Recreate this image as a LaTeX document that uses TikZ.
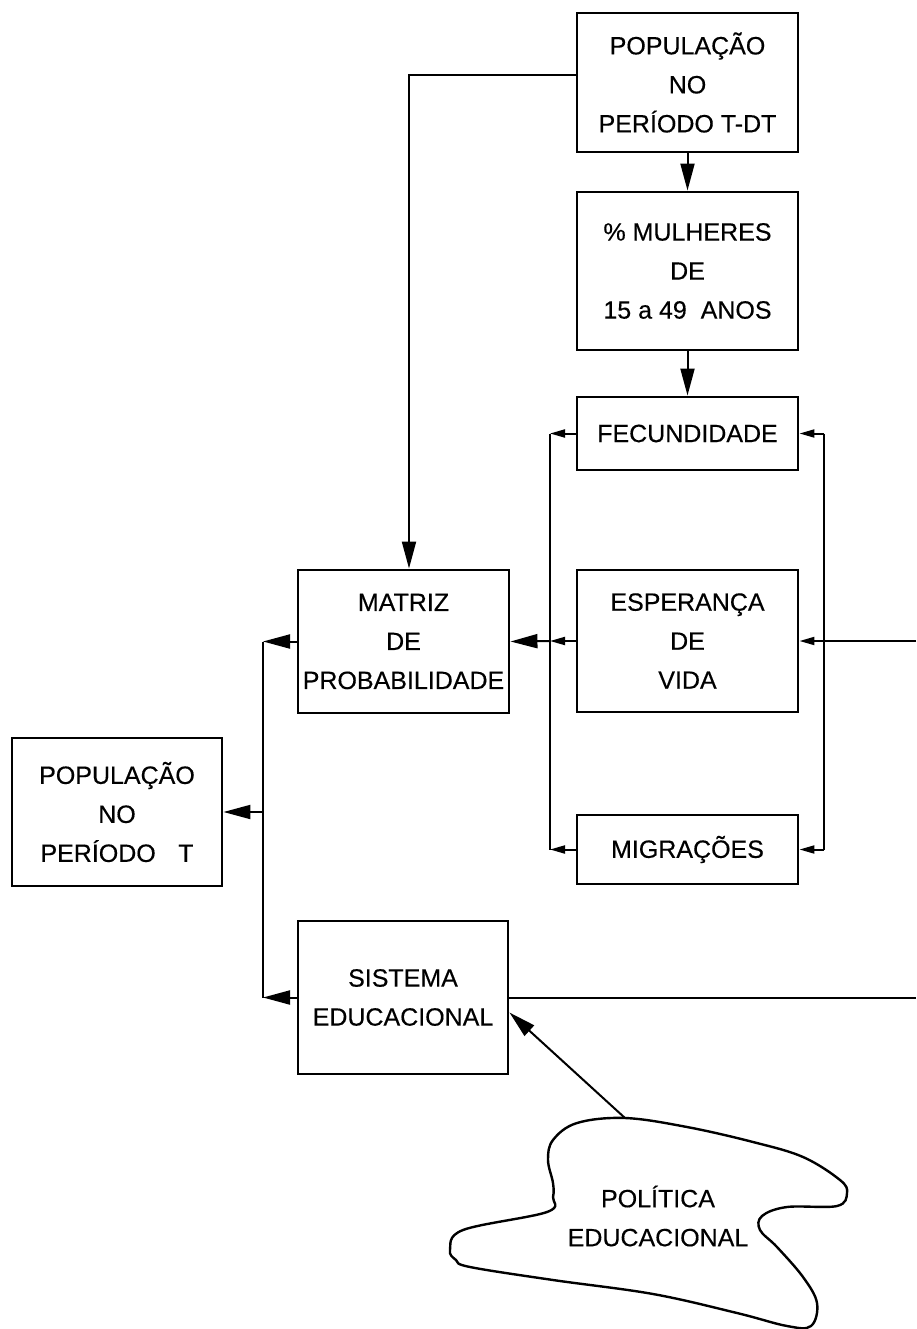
\documentclass[tikz,border=0pt]{standalone}
\usepackage{fontspec}
\setmainfont{Liberation Sans}
% pen-lettered look: the upright face slightly emboldened
\newfontfamily\penfont{Liberation Sans}[BoldFont={Liberation Sans},BoldFeatures={FakeBold=0.35}]
\usetikzlibrary{arrows.meta}

\begin{document}
\begin{tikzpicture}[x=1pt,y=-1pt,
  lettering/.style={font=\penfont\bfseries\fontsize{25}{39}\selectfont},
  blk/.style={draw, line width=2.9pt, inner sep=0pt, align=center, lettering},
  wire/.style={line width=2pt},
  bigarrow/.style={wire, -{Triangle[length=27pt,width=14pt]}},
  smallarrow/.style={wire, -{Triangle[length=15pt,width=8pt]}}]

  % page frame
  \fill[white] (0,0) rectangle (916,1329);
  \useasboundingbox (0,0) rectangle (916,1329);

  % right column
  \node[blk, minimum width=221pt, minimum height=139pt] (poptdt) at (687.5,82.5)
    {POPULAÇÃO\\NO\\PERÍODO T-DT};
  \node[blk, minimum width=221pt, minimum height=158pt] (mulheres) at (687.5,271)
    {\% MULHERES\\DE\\15 a 49\ \ ANOS};
  \node[blk, minimum width=221pt, minimum height=73pt] (fecund) at (687.5,433.5)
    {FECUNDIDADE};
  \node[blk, minimum width=221pt, minimum height=142pt] (esper) at (687.5,641)
    {ESPERANÇA\\DE\\VIDA};
  \node[blk, minimum width=221pt, minimum height=69pt] (migr) at (687.5,849.5)
    {MIGRAÇÕES};

  % middle column
  \node[blk, minimum width=211pt, minimum height=143pt] (matriz) at (403.5,641.5)
    {MATRIZ\\DE\\PROBABILIDADE};
  \node[blk, minimum width=210pt, minimum height=153pt] (sistema) at (403,997.5)
    {SISTEMA\\EDUCACIONAL};

  % left column
  \node[blk, minimum width=210pt, minimum height=148pt] (popt) at (117,812)
    {POPULAÇÃO\\NO\\PERÍODO\hspace{0.9em}T};

  % bus lines
  \coordinate (lbus) at (550,0);
  \coordinate (rbus) at (824,0);
  \coordinate (obus) at (263,0);
  \coordinate (edge) at (916,0);

  % top flow
  \draw[bigarrow] (poptdt) -- (mulheres);
  \draw[bigarrow] (mulheres) -- (fecund);
  \draw[bigarrow] ([yshift=7.5pt]poptdt.west) -| ([xshift=5.5pt]matriz.north);

  % left bus of the demographic group
  \draw[wire] (fecund.west -| lbus) -- (migr.west -| lbus);
  \draw[smallarrow] (fecund.west) -- (fecund.west -| lbus);
  \draw[smallarrow] (esper.west) -- (esper.west -| lbus);
  \draw[smallarrow] (migr.west) -- (migr.west -| lbus);
  \draw[bigarrow] (esper.west -| lbus) -- (matriz.east);

  % right bus of the demographic group
  \draw[wire] (fecund.east -| rbus) -- (migr.east -| rbus);
  \draw[smallarrow] (fecund.east -| rbus) -- (fecund.east);
  \draw[smallarrow] (esper.east -| rbus) -- (esper.east);
  \draw[smallarrow] (migr.east -| rbus) -- (migr.east);
  \coordinate (inesp) at (esper.east -| edge);
  \draw[wire] (inesp) -- (esper.east -| rbus);

  % bus feeding the population at time T
  \draw[wire] (matriz.west -| obus) -- (sistema.west -| obus);
  \draw[bigarrow] (matriz.west) -- (matriz.west -| obus);
  \draw[bigarrow] (sistema.west) -- (sistema.west -| obus);
  \draw[bigarrow] (popt.east -| obus) -- (popt.east);

  % output of the educational system
  \coordinate (outsis) at (sistema.east -| edge);
  \draw[wire] (sistema.east) -- (outsis);

  % educational policy cloud
  \draw[line width=2.4pt] plot[smooth cycle, tension=0.6] coordinates {
    (547,1212) (463,1230) (450,1250) (456,1260) (470,1267) (553,1280)
    (653,1294) (737,1313) (787,1326) (811,1326) (817,1303) (803,1277)
    (777,1247) (760,1230) (762,1216) (787,1207) (837,1206) (847,1193)
    (840,1180) (803,1157) (753,1142) (687,1127) (625,1118) (577,1123)
    (553,1140) (548,1160) (553,1183) (553,1197)};
  \node[align=center, inner sep=0pt, lettering]
    (politica) at (658,1216) {POLÍTICA\\EDUCACIONAL};
  \coordinate (cloudtop) at (625,1118);
  \draw[bigarrow] (cloudtop) -- ([yshift=-15pt]sistema.east);
\end{tikzpicture}
\end{document}
